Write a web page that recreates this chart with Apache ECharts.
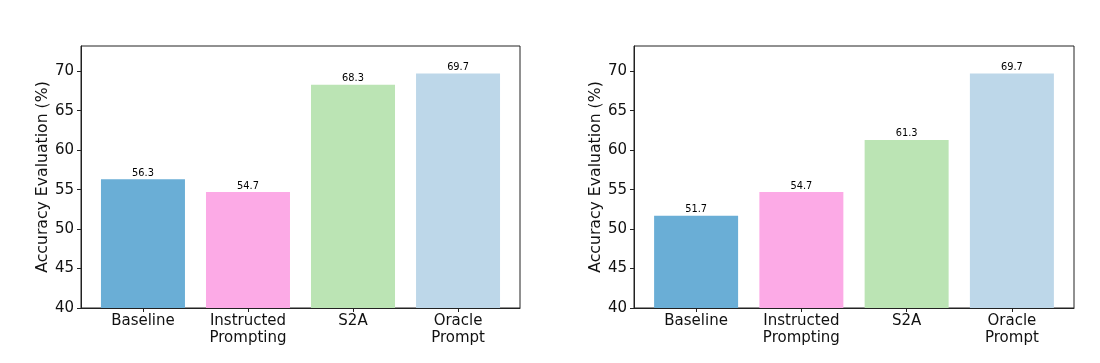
<!DOCTYPE html>
<html>
<head>
<meta charset="utf-8">
<script src="https://cdn.jsdelivr.net/npm/echarts@6/dist/echarts.min.js"></script>
<style>html,body{margin:0;padding:0;background:#fff}#c{width:1100px;height:363px}</style>
</head>
<body>
<div id="c"></div>
<script>
const categories = ['Baseline', 'Instructed\nPrompting', 'S2A', 'Oracle\nPrompt'];
const leftValues = [56.3, 54.7, 68.3, 69.7];
const rightValues = [51.7, 54.7, 61.3, 69.7];
const yTicks = [40, 45, 50, 55, 60, 65, 70];
const xTicks = [0, 1, 2, 3];
const barColors = ['#6aaed6', '#fcaae6', '#bbe4b4', '#bdd7e9'];
const yName = 'Accuracy Evaluation (%)';

const font = 'DejaVu Sans';
const chart = echarts.init(document.getElementById('c'));

function xAxisCfg(gridIndex) {
  return {
    type: 'value', gridIndex, min: -0.59, max: 3.59,
    axisLine: { show: true, onZero: false, lineStyle: { color: '#222', width: 1 } },
    axisTick: { show: true, customValues: xTicks, length: 4, lineStyle: { color: '#222' } },
    axisLabel: { customValues: xTicks, formatter: v => categories[v], fontFamily: font, fontSize: 15, color: '#111', margin: 5, lineHeight: 17 },
    splitLine: { show: false }
  };
}
function yAxisCfg(gridIndex) {
  return {
    type: 'value', gridIndex, min: 40, max: 73.2,
    name: yName, nameLocation: 'middle', nameGap: 28,
    nameTextStyle: { fontFamily: font, fontSize: 15.7, color: '#111' },
    axisLine: { show: true, onZero: false, lineStyle: { color: '#222', width: 1 } },
    axisTick: { show: true, customValues: yTicks, length: 4, lineStyle: { color: '#222' } },
    axisLabel: { customValues: yTicks, fontFamily: font, fontSize: 15, color: '#111', margin: 7 },
    splitLine: { show: false }
  };
}
function series(values, idx) {
  return {
    type: 'bar', xAxisIndex: idx, yAxisIndex: idx, barWidth: 84,
    data: values.map((v, i) => ({ value: [i, v], itemStyle: { color: barColors[i] } })),
    label: { show: true, position: 'top', distance: 1, fontFamily: font, fontSize: 9.8, color: '#000', formatter: p => p.value[1].toFixed(1) }
  };
}

chart.setOption({
  animation: false,
  grid: [
    { left: 81, right: 580, top: 46, bottom: 55, show: true, borderColor: '#222', borderWidth: 1 },
    { left: 634, right: 26, top: 46, bottom: 55, show: true, borderColor: '#222', borderWidth: 1 }
  ],
  xAxis: [xAxisCfg(0), xAxisCfg(1)],
  yAxis: [yAxisCfg(0), yAxisCfg(1)],
  series: [series(leftValues, 0), series(rightValues, 1)]
});
</script>
</body>
</html>
